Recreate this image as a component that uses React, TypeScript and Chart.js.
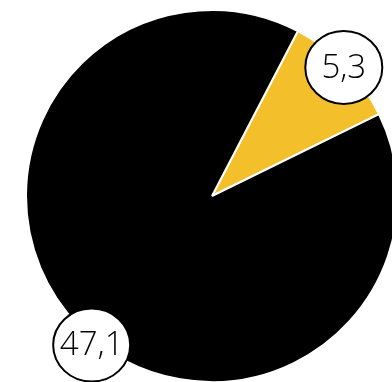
import React, { useEffect, useRef } from "react";
import { Chart, registerables } from "chart.js";

Chart.register(...registerables);

const categories = ["A", "B"];
const values = [5.3, 47.1];
const valueLabels = ["5,3", "47,1"];
const colors = ["#F3BF2B", "#000000"];

const labelPlugin = {
  id: "bubbleLabels",
  afterDatasetsDraw(chart: any, _args: any, opts: any) {
    const ctx = chart.ctx;
    const meta = chart.getDatasetMeta(0);
    meta.data.forEach((arc: any, i: number) => {
      const { x, y, startAngle, endAngle, outerRadius } = arc.getProps(
        ["x", "y", "startAngle", "endAngle", "outerRadius"],
        true
      );
      const frac = opts.fractions[i];
      const dist = opts.distances[i];
      const a = startAngle + (endAngle - startAngle) * frac;
      const cx = x + Math.cos(a) * outerRadius * dist;
      const cy = y + Math.sin(a) * outerRadius * dist;
      ctx.save();
      ctx.beginPath();
      ctx.ellipse(cx, cy, 38.5, 36.5, 0, 0, Math.PI * 2);
      ctx.fillStyle = "#ffffff";
      ctx.fill();
      ctx.lineWidth = 2;
      ctx.strokeStyle = "#000000";
      ctx.stroke();
      ctx.fillStyle = "#000000";
      ctx.font = "300 33px 'Open Sans', sans-serif";
      ctx.textAlign = "center";
      ctx.textBaseline = "middle";
      ctx.fillText(valueLabels[i], cx, cy + 1);
      ctx.restore();
    });
  },
};

export default function App() {
  const ref = useRef<HTMLCanvasElement>(null);
  useEffect(() => {
    if (!ref.current) return;
    const chart = new Chart(ref.current, {
      type: "pie",
      data: {
        labels: categories,
        datasets: [
          {
            data: values,
            backgroundColor: colors,
            borderColor: "#ffffff",
            borderWidth: 2,
          },
        ],
      },
      options: {
        responsive: false,
        animation: false,
        rotation: 27.5,
        layout: { padding: 0 },
        plugins: {
          legend: { display: false },
          tooltip: { enabled: false },
          bubbleLabels: { fractions: [0.5, 0.479], distances: [0.99, 1.03] },
        } as any,
      },
      plugins: [labelPlugin],
    });
    return () => chart.destroy();
  }, []);
  return (
    <div
      style={{
        position: "fixed",
        left: 0,
        top: 0,
        width: 392,
        height: 382,
        overflow: "hidden",
        background: "#ffffff",
      }}
    >
      <canvas
        ref={ref}
        width={374}
        height={374}
        style={{ position: "absolute", left: 24.5, top: 9, width: 374, height: 374 }}
      />
    </div>
  );
}
